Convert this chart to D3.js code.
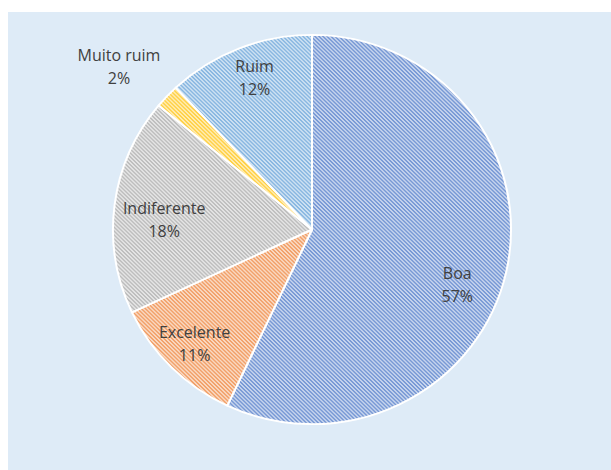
<!DOCTYPE html>
<html>
<head>
<meta charset="utf-8">
<script src="https://cdn.jsdelivr.net/npm/d3@7"></script>
<style>
  html, body { margin: 0; padding: 0; background: #ffffff; }
  svg { display: block; }
  text { font-family: "Open Sans", Lato, sans-serif; }
</style>
</head>
<body>
<svg id="chart" width="611" height="470"></svg>
<script>
// Satisfaction survey answers (share of respondents, %)
const categories = ["Boa", "Excelente", "Indiferente", "Muito ruim", "Ruim"];
const shares = [57, 11, 18, 2, 12];
const percentLabels = ["57%", "11%", "18%", "2%", "12%"];
const colors = ["#4472c4", "#ed7d31", "#a5a5a5", "#ffc000", "#5b9bd5"];

// Label placement: angular nudge (degrees) and distance as a fraction of the radius
const labelNudge = [8, 1, -3, -3, 1];
const labelDistance = [0.78, 0.82, 0.745, 1.27, 0.82];

const width = 611, height = 470;
const svg = d3.select("#chart");

// Light blue plot area
svg.append("rect")
  .attr("x", 8).attr("y", 12)
  .attr("width", width - 8).attr("height", height - 12)
  .attr("fill", "#deebf7");

// Wide diagonal hatching, one tile per category colour:
// a pale tint of the colour with a stronger two-pixel diagonal stripe
const defs = svg.append("defs");
colors.forEach((c, i) => {
  const p = defs.append("pattern")
    .attr("id", "hatch" + i)
    .attr("patternUnits", "userSpaceOnUse")
    .attr("width", 4).attr("height", 4);
  p.append("rect").attr("width", 4).attr("height", 4).attr("fill", "#ffffff");
  p.append("rect").attr("width", 4).attr("height", 4).attr("fill", c).attr("fill-opacity", 0.3);
  for (let y = 0; y < 4; y++) {
    for (let x = 0; x < 4; x++) {
      const m = ((x - y) % 4 + 4) % 4;
      if (m === 0 || m === 1) {
        p.append("rect").attr("x", x).attr("y", y)
          .attr("width", 1).attr("height", 1)
          .attr("fill", c).attr("fill-opacity", 0.6);
      }
    }
  }
});

const cx = 312, cy = 229.5, radius = 199;
const g = svg.append("g").attr("transform", `translate(${cx},${cy}) scale(1,0.978)`);

const data = categories.map((name, i) => ({ name, value: shares[i], label: percentLabels[i], i }));

const pie = d3.pie().value(d => d.value).sort(null);
const arc = d3.arc().innerRadius(0).outerRadius(radius);
const arcs = pie(data);

g.selectAll("path.slice")
  .data(arcs)
  .join("path")
  .attr("class", "slice")
  .attr("d", arc)
  .attr("fill", d => `url(#hatch${d.data.i})`)
  .attr("stroke", "#ffffff")
  .attr("stroke-width", 2)
  .attr("stroke-linejoin", "round");

// Two-line data labels: category name and percentage
const labels = svg.append("g")
  .attr("transform", `translate(${cx},${cy})`)
  .selectAll("g.label")
  .data(arcs)
  .join("g")
  .attr("class", "label")
  .attr("transform", d => {
    const i = d.data.i;
    const a = (d.startAngle + d.endAngle) / 2 + labelNudge[i] * Math.PI / 180;
    const r = radius * labelDistance[i];
    return `translate(${r * Math.sin(a)},${-r * Math.cos(a)})`;
  });

labels.append("text")
  .attr("text-anchor", "middle")
  .attr("y", -5)
  .attr("fill", "#404040")
  .attr("font-size", 16)
  .text(d => d.data.name);

labels.append("text")
  .attr("text-anchor", "middle")
  .attr("y", 18)
  .attr("fill", "#404040")
  .attr("font-size", 16)
  .text(d => d.data.label);
</script>
</body>
</html>
